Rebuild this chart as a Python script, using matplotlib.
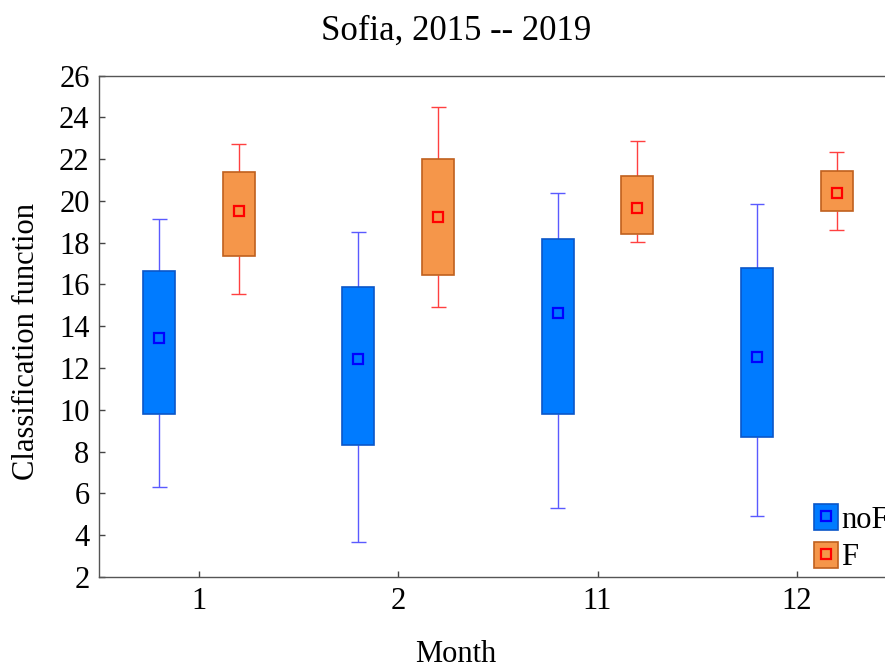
import matplotlib
matplotlib.use("Agg")
import matplotlib.pyplot as plt
import numpy as np
from matplotlib.patches import Patch
from matplotlib.lines import Line2D
from matplotlib.legend_handler import HandlerTuple

plt.rcParams['font.family'] = ['Liberation Serif', 'DejaVu Serif']

months = ['1', '2', '11', '12']
groups = ['noF', 'F']

# noF statistics per month
noF_wlo = [6.29, 3.69, 5.29, 4.91]
noF_q1 = [9.78, 8.31, 9.79, 8.71]
noF_mean = [13.45, 12.45, 14.63, 12.53]
noF_q3 = [16.65, 15.87, 18.17, 16.77]
noF_whi = [19.13, 18.53, 20.40, 19.84]

# F statistics per month
F_wlo = [15.55, 14.91, 18.05, 18.62]
F_q1 = [17.36, 16.46, 18.40, 19.51]
F_mean = [19.51, 19.21, 19.68, 20.40]
F_q3 = [21.37, 22.02, 21.18, 21.44]
F_whi = [22.70, 24.49, 22.86, 22.34]

W, H = 885, 664
fig = plt.figure(figsize=(W / 100, H / 100), dpi=100)
left, right, top, bottom = 99.3, 896.5, 75.5, 577.0
ax = fig.add_axes([left / W, 1 - bottom / H, (right - left) / W, (bottom - top) / H])

x = np.arange(len(months))
offset = 0.2
bw = 0.16
capw = 0.075

styles = {
    'noF': dict(face='#007bff', edge='#0a56c8', wcol='#5a5aff', mcol='#0000ff'),
    'F': dict(face='#f5964a', edge='#c0601e', wcol='#ff4040', mcol='#ff0000'),
}
data = {
    'noF': (noF_wlo, noF_q1, noF_mean, noF_q3, noF_whi, -offset),
    'F': (F_wlo, F_q1, F_mean, F_q3, F_whi, offset),
}

handles = []
for g in groups:
    wlo, q1, mean, q3, whi, off = data[g]
    st = styles[g]
    xs = x + off
    q1a, q3a = np.array(q1), np.array(q3)
    ax.vlines(xs, wlo, q1, color=st['wcol'], lw=1.0, zorder=2)
    ax.vlines(xs, q3, whi, color=st['wcol'], lw=1.0, zorder=2)
    ax.hlines(wlo, xs - capw / 2, xs + capw / 2, color=st['wcol'], lw=1.0, zorder=2)
    ax.hlines(whi, xs - capw / 2, xs + capw / 2, color=st['wcol'], lw=1.0, zorder=2)
    ax.bar(xs, q3a - q1a, bottom=q1a, width=bw, color=st['face'],
           edgecolor=st['edge'], linewidth=1.2, zorder=3)
    ax.plot(xs, mean, ls='none', marker='s', markersize=6.5,
            markerfacecolor=st['face'], markeredgecolor=st['mcol'],
            markeredgewidth=1.6, zorder=4)
    ph = Patch(facecolor=st['face'], edgecolor=st['edge'], linewidth=1.2)
    mh = Line2D([], [], ls='none', marker='s', markersize=6.5,
                markerfacecolor=st['face'], markeredgecolor=st['mcol'],
                markeredgewidth=1.6)
    handles.append((ph, mh))

ax.set_xlim(-0.5, 3.5)
ax.set_ylim(2, 26)
ax.set_xticks(x)
ax.set_xticklabels(months)
ax.set_yticks(np.arange(2, 27, 2))
ax.tick_params(direction='in', length=4, width=1, color='#444444',
               labelsize=22, pad=7)
for s in ax.spines.values():
    s.set_color('#555555')
    s.set_linewidth(1.0)

ax.set_title('Sofia, 2015 -- 2019', fontsize=25, x=0.4474,
             y=(bottom - 40) / (bottom - top), va='baseline', pad=0)
ax.set_xlabel('Month', fontsize=22)
ax.xaxis.label.set_va('baseline')
ax.xaxis.set_label_coords(0.4474, (bottom - 662) / (bottom - top))
ax.set_ylabel('Classification function', fontsize=22)
ax.yaxis.label.set_va('center')
ax.yaxis.set_label_coords((27 - left) / (right - left),
                          (bottom - 341.7) / (bottom - top))

leg = ax.legend(handles, groups, handler_map={tuple: HandlerTuple(ndivide=1)},
                loc='upper left', bbox_to_anchor=(814 / W, 1 - 504 / H),
                bbox_transform=fig.transFigure, frameon=False, fontsize=22,
                borderpad=0, borderaxespad=0, handlelength=0.8,
                handleheight=0.95, handletextpad=0.1, labelspacing=0.23)

fig.savefig('out.png', dpi=100)
